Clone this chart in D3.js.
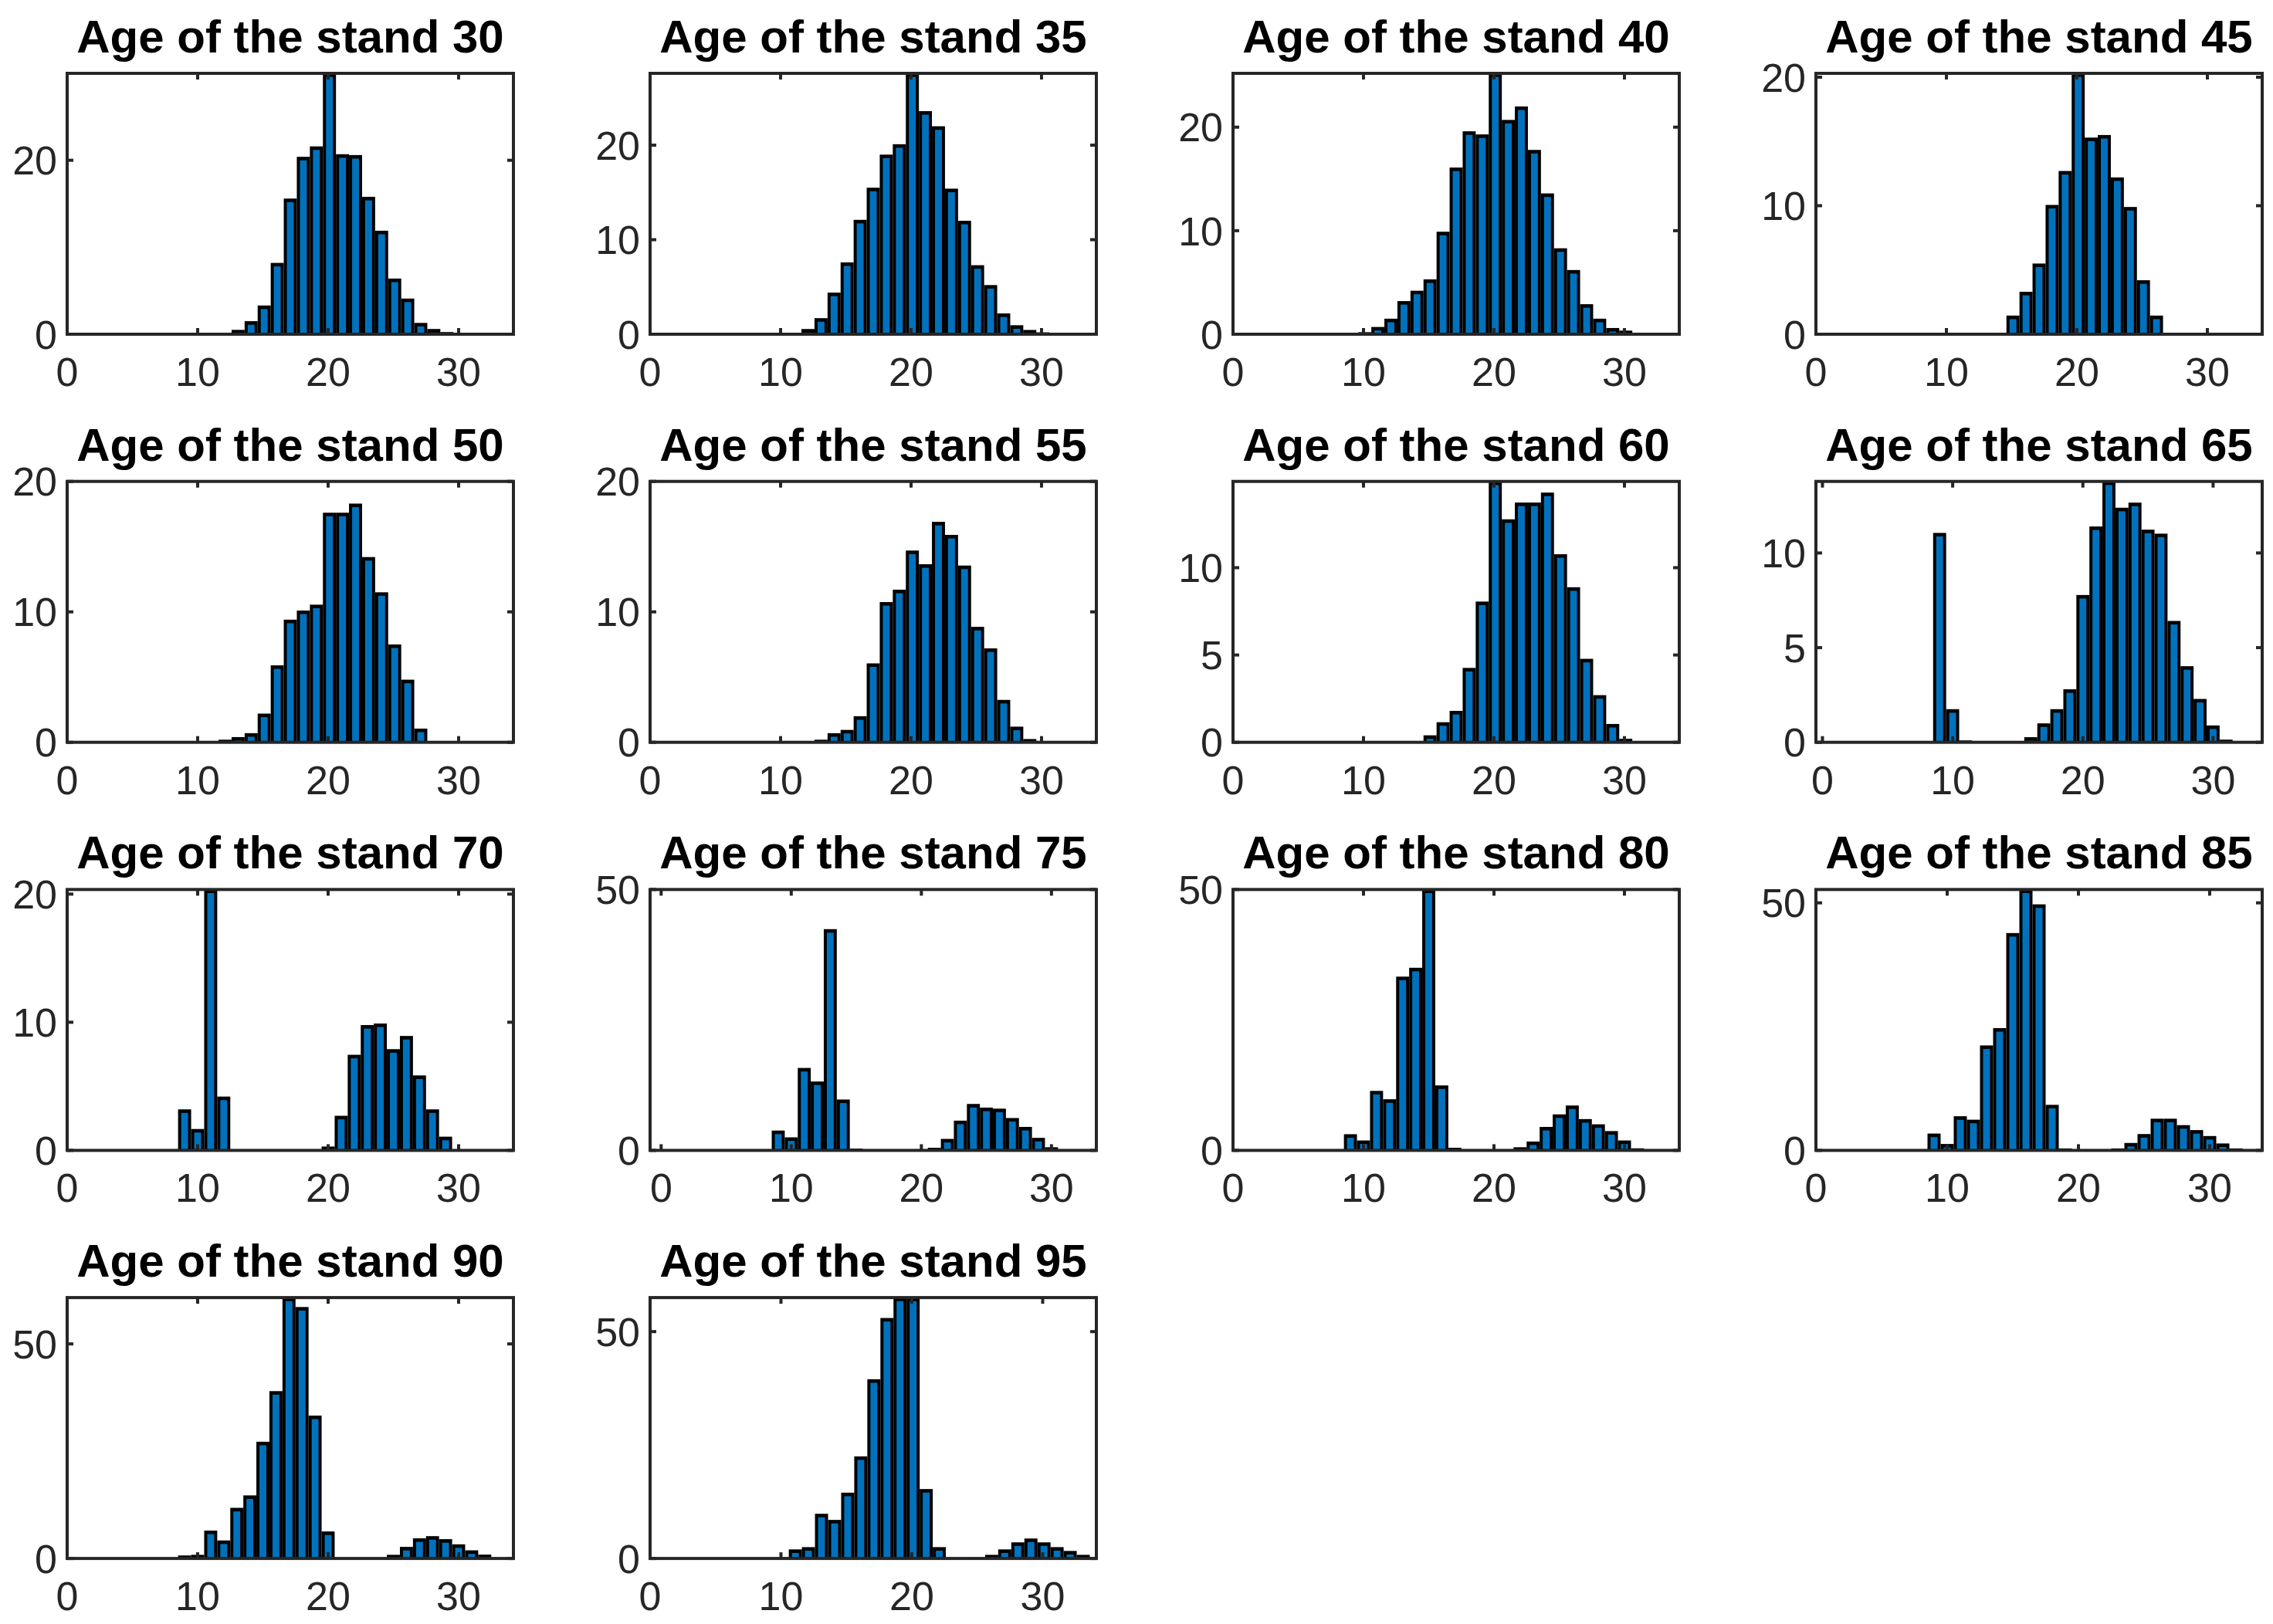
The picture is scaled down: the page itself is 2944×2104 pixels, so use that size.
<!DOCTYPE html>
<html>
<head>
<meta charset="utf-8">
<script src="https://cdn.jsdelivr.net/npm/d3@7"></script>
<style>
  html, body { margin: 0; padding: 0; background: #ffffff; }
  svg text { font-family: "Liberation Sans", Arial, Helvetica, sans-serif; }
</style>
</head>
<body>
<div id="chart"></div>
<script>
/**
 * Histogram data, one array per stand age (bin width 1, first bin edge in binStart).
 */
var standAges = [30, 35, 40, 45, 50, 55, 60, 65, 70, 75, 80, 85, 90, 95];

var age30 = [0.05, 0.05, 0.1, 0.15, 0.5, 1.5, 3.3, 8.2, 15.6, 20.4, 21.6, 30, 20.7, 20.6, 15.8, 11.9, 6.4, 4.1, 1.3, 0.6, 0.25, 0.1, 0.05, 0.05];
var age35 = [0.05, 0.1, 0.15, 0.55, 1.7, 4.4, 7.6, 12.1, 15.5, 19.0, 20.1, 27.6, 23.6, 22.0, 15.4, 12.0, 7.3, 5.2, 2.2, 0.95, 0.45, 0.2, 0.1, 0.05, 0.05];
var age40 = [0.03, 0.05, 0.2, 0.7, 1.5, 3.2, 4.2, 5.3, 9.9, 16.1, 19.6, 19.3, 25.2, 20.7, 22.0, 17.8, 13.6, 8.3, 6.2, 2.9, 1.5, 0.6, 0.35, 0.1, 0.05, 0.05];
var age45 = [1.45, 3.3, 5.5, 10.06, 12.7, 20.3, 15.3, 15.5, 12.2, 9.9, 4.2, 1.45];
var age50 = [0.2, 0.4, 0.7, 2.2, 5.9, 9.4, 10.1, 10.55, 17.6, 17.6, 18.3, 14.2, 11.5, 7.5, 4.8, 1.05, 0.1];
var age55 = [0.2, 0.7, 0.95, 2.0, 6.05, 10.75, 11.7, 14.7, 13.65, 16.9, 15.9, 13.55, 8.85, 7.2, 3.25, 1.2, 0.25];
var age60 = [0.07, 0.4, 1.15, 1.8, 4.26, 8.06, 14.94, 12.77, 13.73, 13.73, 14.3, 10.77, 8.88, 4.78, 2.7, 1.05, 0.2];
var age65 = [11.06, 1.75, 0.1, 0, 0, 0, 0.04, 0.27, 1.0, 1.75, 2.8, 7.78, 11.4, 13.78, 12.39, 12.66, 11.23, 11.02, 6.41, 4.02, 2.29, 0.89, 0.14];
var age70 = [3.2, 1.67, 20.36, 4.2, 0, 0, 0, 0, 0, 0, 0, 0.3, 2.7, 7.46, 9.78, 9.9, 7.9, 8.93, 5.85, 3.2, 1.07];
var age75 = [3.8, 2.5, 15.8, 13.2, 42.4, 9.75, 0.35, 0, 0, 0, 0, 0.1, 0.5, 2.2, 5.7, 8.9, 8.2, 8.0, 6.2, 4.5, 2.4, 0.6];
var age80 = [3.1, 1.9, 11.4, 9.8, 33.3, 35.0, 50, 12.45, 0.5, 0, 0, 0, 0.2, 0.6, 1.7, 4.5, 6.9, 8.6, 6.0, 5.0, 3.7, 1.9, 0.4];
var age85 = [3.4, 1.3, 6.9, 6.2, 21.2, 24.7, 43.9, 52.7, 49.7, 9.2, 0.4, 0, 0, 0, 0.4, 1.5, 3.3, 6.4, 6.4, 5.1, 4.1, 2.9, 1.4, 0.4];
var age90 = [0.7, 0.85, 6.5, 4.2, 11.8, 14.7, 27.2, 39.0, 60.8, 58.6, 33.3, 6.3, 0.1, 0, 0, 0.1, 0.85, 2.7, 4.7, 5.2, 4.5, 3.3, 1.9, 0.9, 0.1];
var age95 = [0.15, 2.0, 2.5, 9.85, 8.5, 14.5, 22.5, 39.5, 53.0, 57.5, 57.5, 15.3, 2.5, 0, 0, 0.2, 0.8, 2.0, 3.55, 4.4, 3.55, 2.5, 1.66, 0.8];

var histCounts = [age30, age35, age40, age45, age50, age55, age60, age65, age70, age75, age80, age85, age90, age95];
var binStart = [8.6, 8.6, 7.6, 14.6, 11.6, 12.6, 13.6, 8.5, 8.5, 8.5, 8.5, 8.5, 8.5, 9.6];

// axis limits and ticks
var xMin = [0, 0, 0, 0, 0, 0, 0, -0.5, 0, -0.85, 0, 0, 0, 0];
var xMax = [34.2, 34.2, 34.2, 34.2, 34.2, 34.2, 34.2, 33.77, 34.2, 33.45, 34.2, 34.0, 34.2, 34.1];
var yMax = [30, 27.6, 25.2, 20.3, 20, 20, 14.94, 13.78, 20.36, 50, 50, 52.7, 60.8, 57.5];
var xTicks = [0, 10, 20, 30];
var yTicks = [
	[0, 20], [0, 10, 20], [0, 10, 20], [0, 10, 20],
	[0, 10, 20], [0, 10, 20], [0, 5, 10], [0, 5, 10],
	[0, 10, 20], [0, 50], [0, 50], [0, 50],
	[0, 50], [0, 50]
];

{
	var width = 2944,
		height = 2104;
	var left0 = 87,
		colStep = 755,
		top0 = 95,
		rowStep = 528.7,
		axW = 578,
		axH = 338;
	var tickLen = 8,
		insetSide = 4,
		insetTop = 4.6;
	var axisColor = "#262626",
		barColor = "#0072BD";

	var svg = d3.select("#chart")
		.append("svg")
		.attr("width", width)
		.attr("height", height)
		.style("display", "block");

	svg.append("rect")
		.attr("width", width)
		.attr("height", height)
		.attr("fill", "#ffffff");

	standAges.forEach(function (age, i) {
		var col = i % 4,
			row = Math.floor(i / 4);

		var x = d3.scaleLinear().domain([xMin[i], xMax[i]]).range([0, axW]);
		var y = d3.scaleLinear().domain([0, yMax[i]]).range([axH, 0]).clamp(true);

		var g = svg.append("g")
			.attr("transform", "translate(" + (left0 + col * colStep) + "," + (top0 + row * rowStep) + ")");

		var bins = histCounts[i].map(function (v, k) {
			return { x0: binStart[i] + k, x1: binStart[i] + k + 1, v: v };
		}).filter(function (d) {
			return d.v > 0;
		});

		var bar = g.selectAll(".bar")
			.data(bins)
			.enter().append("g")
			.attr("class", "bar");

		// black edge
		bar.append("rect")
			.attr("x", function (d) { return x(d.x0); })
			.attr("y", function (d) { return y(d.v); })
			.attr("width", function (d) { return x(d.x1) - x(d.x0); })
			.attr("height", function (d) { return axH - y(d.v); })
			.attr("fill", "#000000");

		// blue face
		bar.filter(function (d) { return axH - y(d.v) > insetTop; })
			.append("rect")
			.attr("x", function (d) { return x(d.x0) + insetSide; })
			.attr("y", function (d) { return y(d.v) + insetTop; })
			.attr("width", function (d) { return x(d.x1) - x(d.x0) - 2 * insetSide; })
			.attr("height", function (d) { return axH - y(d.v) - insetTop; })
			.attr("fill", barColor);

		// ticks on all four sides, pointing in
		xTicks.filter(function (t) { return t >= xMin[i] && t <= xMax[i]; }).forEach(function (t) {
			g.append("line")
				.attr("x1", x(t)).attr("x2", x(t))
				.attr("y1", axH).attr("y2", axH - tickLen)
				.attr("stroke", axisColor).attr("stroke-width", 4);
			g.append("line")
				.attr("x1", x(t)).attr("x2", x(t))
				.attr("y1", 0).attr("y2", tickLen)
				.attr("stroke", axisColor).attr("stroke-width", 4);
			g.append("text")
				.attr("x", x(t))
				.attr("y", axH + 67)
				.attr("text-anchor", "middle")
				.attr("font-size", 52)
				.attr("fill", axisColor)
				.text(t);
		});

		yTicks[i].forEach(function (t) {
			g.append("line")
				.attr("x1", 0).attr("x2", tickLen)
				.attr("y1", y(t)).attr("y2", y(t))
				.attr("stroke", axisColor).attr("stroke-width", 4);
			g.append("line")
				.attr("x1", axW).attr("x2", axW - tickLen)
				.attr("y1", y(t)).attr("y2", y(t))
				.attr("stroke", axisColor).attr("stroke-width", 4);
			g.append("text")
				.attr("x", -13)
				.attr("y", y(t))
				.attr("dy", "0.36em")
				.attr("text-anchor", "end")
				.attr("font-size", 52)
				.attr("fill", axisColor)
				.text(t);
		});

		g.append("rect")
			.attr("width", axW)
			.attr("height", axH)
			.attr("fill", "none")
			.attr("stroke", axisColor)
			.attr("stroke-width", 4);

		g.append("text")
			.attr("x", axW / 2)
			.attr("y", -27)
			.attr("text-anchor", "middle")
			.attr("font-size", 60)
			.attr("font-weight", "bold")
			.attr("fill", "#000000")
			.text("Age of the stand " + age);
	});
}
</script>
</body>
</html>
